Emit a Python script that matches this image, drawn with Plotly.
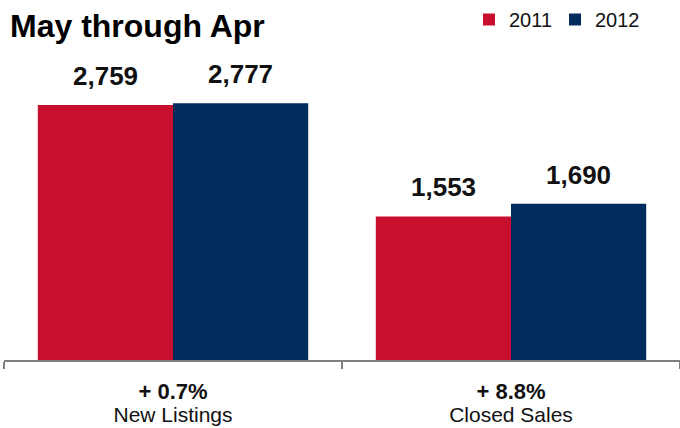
import plotly.graph_objects as go

# Data
categories = ["New Listings", "Closed Sales"]
pct_change = ["+ 0.7%", "+ 8.8%"]
years = ["2011", "2012"]
values_2011 = [2759, 1553]
values_2012 = [2777, 1690]
colors = {"2011": "#C8102E", "2012": "#002B5C"}

FONT = "Liberation Sans, Arial, sans-serif"

# Two-line category labels: bold change on top, category name below.
# The base tick font sets the line spacing; each line sets its own size.
tick_text = [
    f"<span style='font-size:22px'><b>{p}</b></span><br>"
    f"<span style='font-size:21px'>{c}</span>"
    for p, c in zip(pct_change, categories)
]

fig = go.Figure()
for year, vals in zip(years, [values_2011, values_2012]):
    fig.add_trace(go.Bar(
        x=categories, y=vals, name=year,
        marker=dict(color=colors[year], line=dict(width=0)),
        hoverinfo="skip",
    ))

# Value labels above each bar (grouped bars: each bar occupies 0.4 of a slot)
annotations = []
for i in range(len(categories)):
    for off, vals in zip([-0.2, 0.2], [values_2011, values_2012]):
        annotations.append(dict(
            x=i + off, y=vals[i], xref="x", yref="y",
            text=f"<b>{vals[i]:,}</b>", showarrow=False,
            yanchor="bottom", yshift=12,
            font=dict(family=FONT, size=26, color="#111111"),
        ))

fig.update_layout(
    width=680, height=428,
    margin=dict(l=4, r=0, t=60, b=68),
    paper_bgcolor="white", plot_bgcolor="white",
    barmode="group", bargap=0.2, bargroupgap=0,
    title=dict(
        text="<b>May through Apr</b>",
        font=dict(family=FONT, size=32, color="#000000"),
        xref="container", x=10 / 680, xanchor="left",
        yref="container", y=1 - 26 / 428, yanchor="middle",
    ),
    legend=dict(
        orientation="h", x=469 / 680, xanchor="left", y=1, yanchor="top",
        yref="container", xref="container",
        entrywidth=41, entrywidthmode="pixels",
        font=dict(family=FONT, size=20, color="#111111"),
        itemclick=False, itemdoubleclick=False,
        traceorder="normal",
    ),
    annotations=annotations,
    xaxis=dict(
        type="category",
        tickmode="array", tickvals=categories, ticktext=tick_text,
        range=[-0.5, len(categories) - 0.5],
        showline=True, linecolor="#808080", linewidth=2,
        ticks="outside", tickson="boundaries", ticklen=7, tickwidth=2,
        tickcolor="#808080",
        ticklabelstandoff=15,
        tickfont=dict(family=FONT, size=18, color="#111111"),
        showgrid=False, zeroline=False, fixedrange=True,
    ),
    yaxis=dict(
        range=[0, 3246], visible=False, showgrid=False, zeroline=False,
        fixedrange=True,
    ),
)

fig.write_html("out.html", config={"displayModeBar": False})
